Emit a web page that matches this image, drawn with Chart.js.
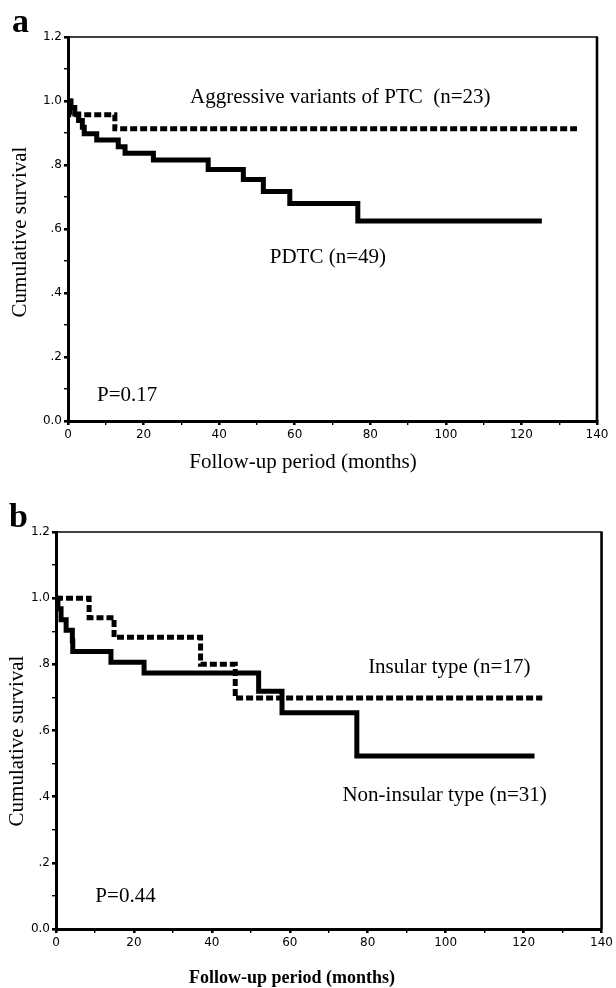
<!DOCTYPE html>
<html>
<head>
<meta charset="utf-8">
<script src="https://cdn.jsdelivr.net/npm/chart.js@4.4.1/dist/chart.umd.min.js"></script>
<style>
  html, body { margin: 0; padding: 0; background: #fff; }
  #wrap { position: relative; width: 616px; height: 988px; }
  .panel { position: absolute; left: 0; width: 616px; }
  #panelA { top: 0; height: 480px; }
  #panelB { top: 480px; height: 508px; }
</style>
</head>
<body>
<div id="wrap">
  <div class="panel" id="panelA"><canvas id="chartA"></canvas></div>
  <div class="panel" id="panelB"><canvas id="chartB"></canvas></div>
</div>
<script>
// Panel a: PDTC vs aggressive variants of PTC (Kaplan-Meier, months / survival)
const pdtcMonths = [0, 0.8, 1.8, 2.8, 3.8, 4.3, 7.6, 13.3, 15.1, 22.6, 37.1, 46.4, 51.7, 58.7, 76.7, 125.4];
const pdtcSurvival = [1.0, 0.98, 0.959, 0.939, 0.918, 0.898, 0.878, 0.857, 0.837, 0.816, 0.786, 0.755, 0.717, 0.68, 0.625, 0.625];
const aggressiveMonths = [0, 0.5, 12.4, 134.7];
const aggressiveSurvival = [1.0, 0.957, 0.913, 0.913];

// Panel b: insular vs non-insular type
const nonInsularMonths = [0, 0.5, 1.3, 2.6, 4.2, 4.3, 14.1, 22.6, 52.0, 58.0, 77.2, 122.8];
const nonInsularSurvival = [1.0, 0.968, 0.935, 0.903, 0.871, 0.839, 0.806, 0.774, 0.719, 0.654, 0.523, 0.523];
const insularMonths = [0, 8.5, 14.9, 37.1, 46.0, 124.8];
const insularSurvival = [1.0, 0.941, 0.882, 0.80, 0.698, 0.698];

// Tick labels
const yTickValues = [0, 0.2, 0.4, 0.6, 0.8, 1.0, 1.2];
const yTickLabels = ["0.0", ".2", ".4", ".6", ".8", "1.0", "1.2"];
const xTickValues = [0, 20, 40, 60, 80, 100, 120, 140];
const xTickLabels = ["0", "20", "40", "60", "80", "100", "120", "140"];

const serif = "'Liberation Serif', 'Times New Roman', serif";

function toPoints(xs, ys) {
    return xs.map((x, i) => ({ x: x, y: ys[i] }));
}

function isMajorY(v) {
    return Math.round(v * 10) % 2 === 0;
}

function isMajorX(v) {
    return Math.round(v) % 20 === 0;
}

// frame, annotations, axis titles and panel letter
const textPlugin = {
    id: "kmText",
    afterDraw(chart) {
        const ctx = chart.ctx;
        const area = chart.chartArea;
        const xs = chart.scales.x;
        const ys = chart.scales.y;
        const o = chart.options.plugins.kmText;
        ctx.save();
        ctx.strokeStyle = "#000";
        ctx.lineWidth = 1.6;
        ctx.beginPath();
        ctx.moveTo(area.left, area.top);
        ctx.lineTo(area.right + 1, area.top);
        ctx.stroke();
        ctx.lineWidth = 2.6;
        ctx.beginPath();
        ctx.moveTo(area.right, area.top);
        ctx.lineTo(area.right, area.bottom);
        ctx.stroke();

        ctx.fillStyle = "#000";
        ctx.textBaseline = "middle";
        ctx.textAlign = "left";
        ctx.font = "21px " + serif;
        o.notes.forEach((n) => {
            ctx.fillText(n.text, xs.getPixelForValue(n.x), ys.getPixelForValue(n.y));
        });

        // x title
        ctx.textAlign = "center";
        ctx.font = o.xTitleFont;
        ctx.fillText("Follow-up period (months)", o.xTitlePos[0], o.xTitlePos[1]);

        // y title
        ctx.save();
        ctx.translate(o.yTitlePos[0], o.yTitlePos[1]);
        ctx.rotate(-Math.PI / 2);
        ctx.font = "21px " + serif;
        ctx.fillText("Cumulative survival", 0, 0);
        ctx.restore();

        // panel letter
        ctx.textAlign = "left";
        ctx.textBaseline = "alphabetic";
        ctx.font = "bold 34px " + serif;
        ctx.fillText(o.letter, o.letterPos[0], o.letterPos[1]);
        ctx.restore();
    }
};

function makeChart(canvasId, solid, dotted, layout, text) {
    return new Chart(document.getElementById(canvasId), {
        type: "line",
        data: {
            datasets: [
                {
                    data: solid,
                    borderColor: "#000",
                    borderWidth: 5,
                    stepped: true,
                    pointRadius: 0,
                    fill: false,
                    borderJoinStyle: "miter",
                    borderCapStyle: "butt"
                },
                {
                    data: dotted,
                    borderColor: "#000",
                    borderWidth: 5,
                    borderDash: [7, 3],
                    stepped: true,
                    pointRadius: 0,
                    fill: false,
                    borderCapStyle: "butt"
                }
            ]
        },
        options: {
            responsive: true,
            maintainAspectRatio: false,
            animation: false,
            layout: { padding: { top: layout.top, right: layout.right, left: 0, bottom: 0 } },
            plugins: {
                legend: { display: false },
                tooltip: { enabled: false },
                kmText: text
            },
            scales: {
                x: {
                    type: "linear",
                    min: 0,
                    max: 140,
                    afterFit: (s) => { s.height = layout.xHeight; },
                    border: { display: true, color: "#000", width: 3 },
                    grid: {
                        drawOnChartArea: false,
                        drawTicks: true,
                        tickLength: 4,
                        color: "#000",
                        lineWidth: (c) => (c.tick && isMajorX(c.tick.value) ? 2.6 : 1.4)
                    },
                    ticks: {
                        stepSize: 10,
                        autoSkip: false,
                        maxRotation: 0,
                        padding: 3,
                        color: "#000",
                        font: { family: "'DejaVu Sans', sans-serif", size: 12 },
                        callback: (v) => {
                            const i = xTickValues.indexOf(Math.round(v));
                            return i >= 0 ? xTickLabels[i] : "";
                        }
                    }
                },
                y: {
                    type: "linear",
                    min: 0,
                    max: 1.2,
                    afterFit: (s) => { s.width = layout.yWidth; },
                    border: { display: true, color: "#000", width: 3 },
                    grid: {
                        drawOnChartArea: false,
                        drawTicks: true,
                        tickLength: 4,
                        color: "#000",
                        lineWidth: (c) => (c.tick && isMajorY(c.tick.value) ? 2.6 : 1.4)
                    },
                    ticks: {
                        stepSize: 0.1,
                        autoSkip: false,
                        padding: 2,
                        color: "#000",
                        font: { family: "'DejaVu Sans', sans-serif", size: 12 },
                        callback: (v) => {
                            const r = Math.round(v * 10) / 10;
                            const i = yTickValues.findIndex((t) => Math.abs(t - r) < 1e-6);
                            return i >= 0 ? yTickLabels[i] : "";
                        }
                    }
                }
            }
        },
        plugins: [textPlugin]
    });
}

makeChart(
    "chartA",
    toPoints(pdtcMonths, pdtcSurvival),
    toPoints(aggressiveMonths, aggressiveSurvival),
    { top: 37, right: 19, yWidth: 68, xHeight: 59 },
    {
        notes: [
            { text: "Aggressive variants of PTC  (n=23)", x: 32.3, y: 1.01 },
            { text: "PDTC (n=49)", x: 53.4, y: 0.51 },
            { text: "P=0.17", x: 7.7, y: 0.081 }
        ],
        xTitleFont: "21px " + serif,
        xTitlePos: [303, 462],
        yTitlePos: [20, 232],
        letter: "a",
        letterPos: [12, 32]
    }
);

makeChart(
    "chartB",
    toPoints(nonInsularMonths, nonInsularSurvival),
    toPoints(insularMonths, insularSurvival),
    { top: 52, right: 14, yWidth: 56, xHeight: 59 },
    {
        notes: [
            { text: "Insular type (n=17)", x: 80.1, y: 0.789 },
            { text: "Non-insular type (n=31)", x: 73.5, y: 0.405 },
            { text: "P=0.44", x: 10.1, y: 0.097 }
        ],
        xTitleFont: "bold 18px " + serif,
        xTitlePos: [292, 498],
        yTitlePos: [17, 261],
        letter: "b",
        letterPos: [9, 47]
    }
);
</script>
</body>
</html>
